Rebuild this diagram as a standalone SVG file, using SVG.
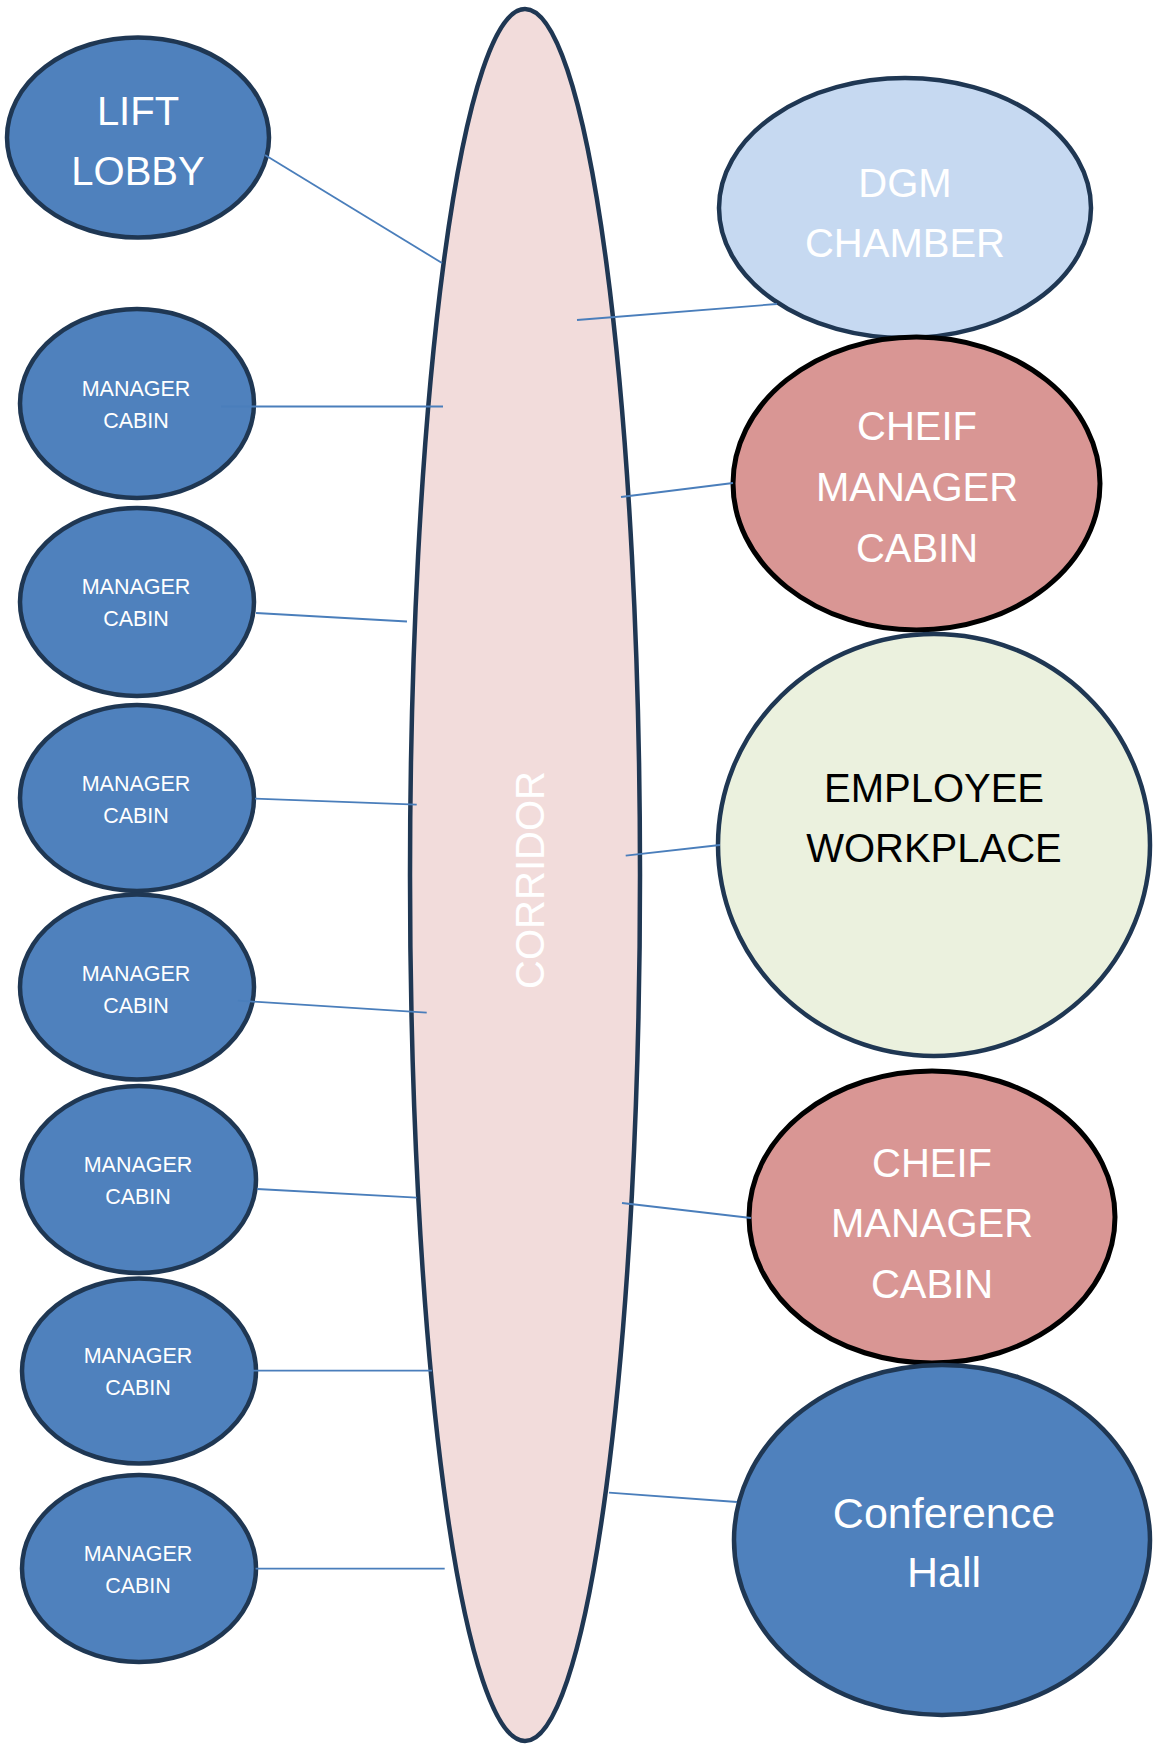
<svg xmlns="http://www.w3.org/2000/svg" width="1161" height="1746" viewBox="0 0 1161 1746">
<style>
.blue{fill:#4F81BD;stroke:#1F3753;stroke-width:4.5}
.dgm{fill:#C6D9F1;stroke:#1F3753;stroke-width:4.5}
.red{fill:#D99694;stroke:#000000;stroke-width:5}
.green{fill:#EBF1DE;stroke:#1F3753;stroke-width:4.5}
.corr{fill:#F2DCDB;stroke:#1F3753;stroke-width:4.5}
text{font-family:"Liberation Sans",Arial,sans-serif;text-anchor:middle}
.big{font-size:40px;fill:#FFFFFF}
.bigk{font-size:40px;fill:#000000}
.conf{font-size:43px;fill:#FFFFFF}
.small{font-size:21.5px;fill:#FFFFFF}
.conn line{stroke:#4A7EBB;stroke-width:1.8}
</style>
<rect width="1161" height="1746" fill="#FFFFFF"/>
<g id="corridor">
<ellipse class="corr" cx="525" cy="875" rx="115" ry="866"/>
<text class="big" transform="translate(544,880) rotate(-90)" x="0" y="0">CORRIDOR</text>
</g>
<g id="lift-lobby">
<ellipse class="blue" cx="138" cy="137.5" rx="131" ry="100"/>
<text class="big" x="138" y="125">LIFT</text>
<text class="big" x="138" y="185">LOBBY</text>
</g>
<g id="manager-cabin-1">
<ellipse class="blue" cx="137" cy="403.5" rx="117" ry="94.5"/>
<text class="small" x="136" y="396">MANAGER</text>
<text class="small" x="136" y="428">CABIN</text>
</g>
<g id="manager-cabin-2">
<ellipse class="blue" cx="137" cy="602" rx="117" ry="94"/>
<text class="small" x="136" y="594">MANAGER</text>
<text class="small" x="136" y="626">CABIN</text>
</g>
<g id="manager-cabin-3">
<ellipse class="blue" cx="137" cy="798" rx="117" ry="93"/>
<text class="small" x="136" y="791">MANAGER</text>
<text class="small" x="136" y="823">CABIN</text>
</g>
<g id="manager-cabin-4">
<ellipse class="blue" cx="137" cy="987" rx="117" ry="92.5"/>
<text class="small" x="136" y="981">MANAGER</text>
<text class="small" x="136" y="1013">CABIN</text>
</g>
<g id="manager-cabin-5">
<ellipse class="blue" cx="139" cy="1179.5" rx="117" ry="93.5"/>
<text class="small" x="138" y="1172">MANAGER</text>
<text class="small" x="138" y="1204">CABIN</text>
</g>
<g id="manager-cabin-6">
<ellipse class="blue" cx="139" cy="1371" rx="117" ry="92.5"/>
<text class="small" x="138" y="1363">MANAGER</text>
<text class="small" x="138" y="1395">CABIN</text>
</g>
<g id="manager-cabin-7">
<ellipse class="blue" cx="139" cy="1568.5" rx="117" ry="93.5"/>
<text class="small" x="138" y="1561">MANAGER</text>
<text class="small" x="138" y="1593">CABIN</text>
</g>
<g id="dgm-chamber">
<ellipse class="dgm" cx="905" cy="208" rx="186" ry="130"/>
<text class="big" x="905" y="197">DGM</text>
<text class="big" x="905" y="257">CHAMBER</text>
</g>
<g id="chief-manager-cabin-1">
<ellipse class="red" cx="916.5" cy="483.5" rx="183.5" ry="146.5"/>
<text class="big" x="917" y="440">CHEIF</text>
<text class="big" x="917" y="501">MANAGER</text>
<text class="big" x="917" y="562">CABIN</text>
</g>
<g id="employee-workplace">
<ellipse class="green" cx="934" cy="845" rx="216" ry="211"/>
<text class="bigk" x="934" y="802">EMPLOYEE</text>
<text class="bigk" x="934" y="862">WORKPLACE</text>
</g>
<g id="chief-manager-cabin-2">
<ellipse class="red" cx="932" cy="1217" rx="183" ry="146"/>
<text class="big" x="932" y="1177">CHEIF</text>
<text class="big" x="932" y="1237">MANAGER</text>
<text class="big" x="932" y="1298">CABIN</text>
</g>
<g id="conference-hall">
<ellipse class="blue" cx="942" cy="1540" rx="208" ry="175"/>
<text class="conf" x="944" y="1528">Conference</text>
<text class="conf" x="944" y="1587">Hall</text>
</g>
<g id="connectors" class="conn">
<line x1="265" y1="155" x2="442" y2="263"/>
<line x1="577" y1="320" x2="777" y2="304"/>
<line x1="221" y1="406.5" x2="443" y2="406.5"/>
<line x1="256" y1="613" x2="407" y2="621.5"/>
<line x1="255" y1="798.7" x2="416.7" y2="804.7"/>
<line x1="238" y1="1000.7" x2="426.7" y2="1012.7"/>
<line x1="257" y1="1189" x2="416.7" y2="1197.7"/>
<line x1="252.6" y1="1370.7" x2="432" y2="1370.7"/>
<line x1="255.6" y1="1568.7" x2="444.7" y2="1568.7"/>
<line x1="621" y1="497" x2="733" y2="483"/>
<line x1="625.7" y1="855.7" x2="720" y2="845"/>
<line x1="622" y1="1203" x2="751" y2="1218"/>
<line x1="609" y1="1492.7" x2="737" y2="1502"/>
</g>
</svg>
